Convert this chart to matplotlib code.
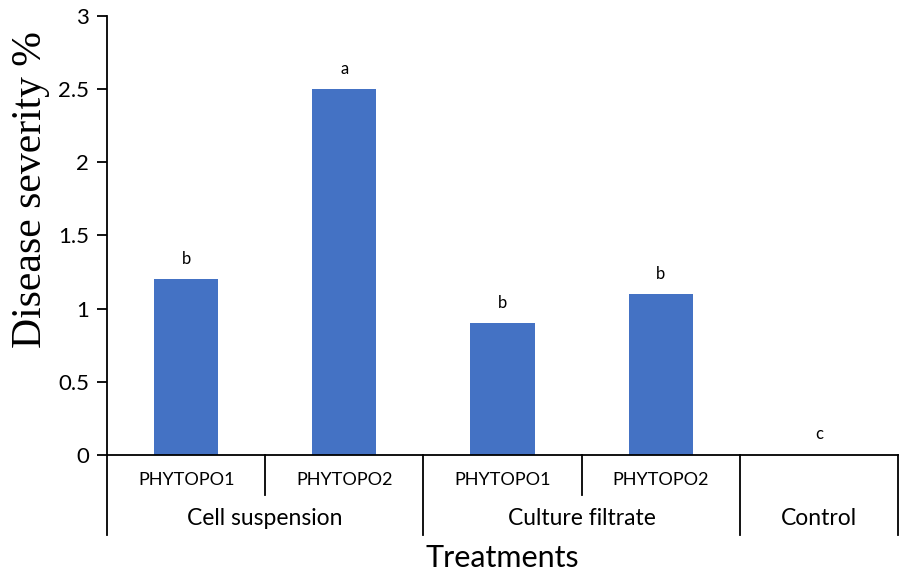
import matplotlib
matplotlib.use('Agg')
import matplotlib.pyplot as plt

# Data
groups = ["Cell suspension", "Culture filtrate", "Control"]
group_sizes = [2, 2, 1]
treatments = ["PHYTOPO1", "PHYTOPO2", "PHYTOPO1", "PHYTOPO2", ""]
severity = [1.2, 2.5, 0.9, 1.1, 0.0]
letters = ["b", "a", "b", "b", "c"]
yticks = [0, 0.5, 1, 1.5, 2, 2.5, 3]

BAR_COLOR = '#4472C4'
SANS = ['Lato', 'DejaVu Sans']

fig = plt.figure(figsize=(9.04, 5.76), dpi=100)
ax = fig.add_axes([0.1184, 0.2101, 0.875, 0.7621])

x = [i + 0.5 for i in range(len(severity))]
ax.bar(x, severity, width=0.405, color=BAR_COLOR)

# significance letters above bars
for xi, v, l in zip(x, severity, letters):
    ax.annotate(l, (xi, v), xytext=(0, 9), textcoords='offset points',
                ha='center', va='bottom', fontsize=12, family=SANS)

ax.set_xlim(0, len(severity))
ax.set_ylim(0, 3)
ax.set_yticks(yticks)
ax.set_yticklabels([f"{t:g}" for t in yticks], family=SANS, fontsize=16)
ax.set_xticks([])

for s in ['top', 'right']:
    ax.spines[s].set_visible(False)
ax.spines['left'].set_linewidth(1.3)
ax.spines['bottom'].set_linewidth(1.3)
ax.tick_params(axis='y', direction='out', length=7, width=1.3, pad=6)

# category axis drawn by hand (two levels)
axh = 439.0  # axes height in pixels
tr = ax.get_xaxis_transform()
sub_depth = -40 / axh
grp_depth = -80 / axh

for xi, name in zip(x, treatments):
    ax.text(xi, -25 / axh, name, transform=tr, ha='center', va='center',
            fontsize=13, family=SANS)

# separators between treatments inside a group
start = 0
for size in group_sizes:
    for k in range(1, size):
        ax.plot([start + k, start + k], [0, sub_depth], transform=tr,
                color='black', lw=1.3, clip_on=False)
    start += size

# separators between groups and group labels
bounds = [0]
for size in group_sizes:
    bounds.append(bounds[-1] + size)
for b in bounds:
    ax.plot([b, b], [0, grp_depth], transform=tr, color='black', lw=1.3,
            clip_on=False)
for g, a, b in zip(groups, bounds[:-1], bounds[1:]):
    ax.text((a + b) / 2, -64 / axh, g, transform=tr, ha='center',
            va='center', fontsize=16.5, family=SANS)

ax.text(0.5, -103 / axh, "Treatments", transform=ax.transAxes, ha='center',
        va='center', fontsize=22, family=SANS)

fig.text(31 / 904, 1 - 190 / 576, "Disease severity %", rotation=90,
         ha='center', va='center', fontsize=30, family='Liberation Serif')

fig.savefig('out.png', dpi=100)
